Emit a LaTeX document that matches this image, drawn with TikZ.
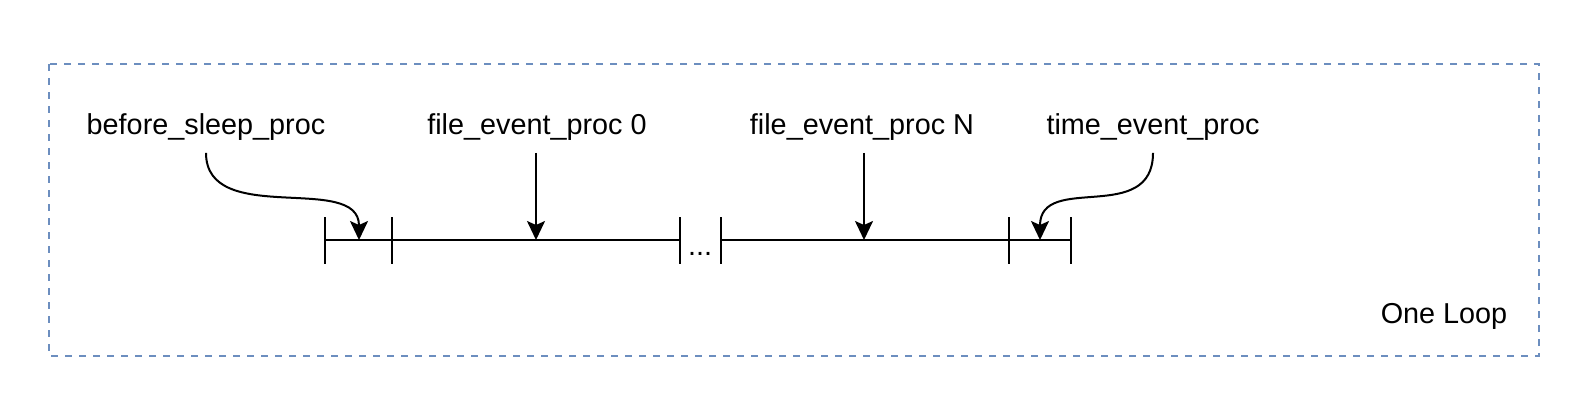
\documentclass[tikz,border=0pt]{standalone}
\usepackage{fontspec}
\setmainfont{Liberation Sans}
\usetikzlibrary{arrows.meta}
\definecolor{loopblue}{HTML}{6C8EBF}
\begin{document}
\begin{tikzpicture}[x=0.5pt,y=-0.5pt,>={Stealth[length=9.5pt,width=9pt,inset=2pt]},
  lbl/.style={font=\fontsize{14.4}{17}\selectfont,inner sep=0pt},
  seg/.style={line width=1pt},
  call/.style={->,line width=1pt,shorten <=6pt}]
  \useasboundingbox (0,0) rectangle (1594,404);
  % the loop
  \draw[loopblue,line width=1pt,dash pattern=on 3.5pt off 3.5pt] (49,64) rectangle (1539,356);
  \node[lbl] (loop) at (1444,316) {One Loop};
  % time line
  \draw[seg] (325,240) -- (680,240);
  \draw[seg] (721,240) -- (1071,240);
  \foreach \x in {325,392,680,721,1009,1071}
    \draw[seg] (\x,217) -- (\x,264);
  \node[lbl] (dots) at (700,254) {...};
  \coordinate (sleepend) at (359,240);
  \coordinate (file0end) at (536,240);
  \coordinate (fileNend) at (864,240);
  \coordinate (timeend) at (1040,240);
  % procs
  \node[lbl] (sleep) at (206,127) {before\_sleep\_proc};
  \node[lbl] (file0) at (537,127) {file\_event\_proc 0};
  \node[lbl] (fileN) at (862,127) {file\_event\_proc N};
  \node[lbl] (time) at (1153,127) {time\_event\_proc};
  \draw[call] (sleep.south) .. controls (206,228) and (359,172) .. (sleepend);
  \draw[call] (file0.south -| file0end) -- (file0end);
  \draw[call] (fileN.south -| fileNend) -- (fileNend);
  \draw[call] (time.south) .. controls (1153,226) and (1040,172) .. (timeend);
\end{tikzpicture}
\end{document}
